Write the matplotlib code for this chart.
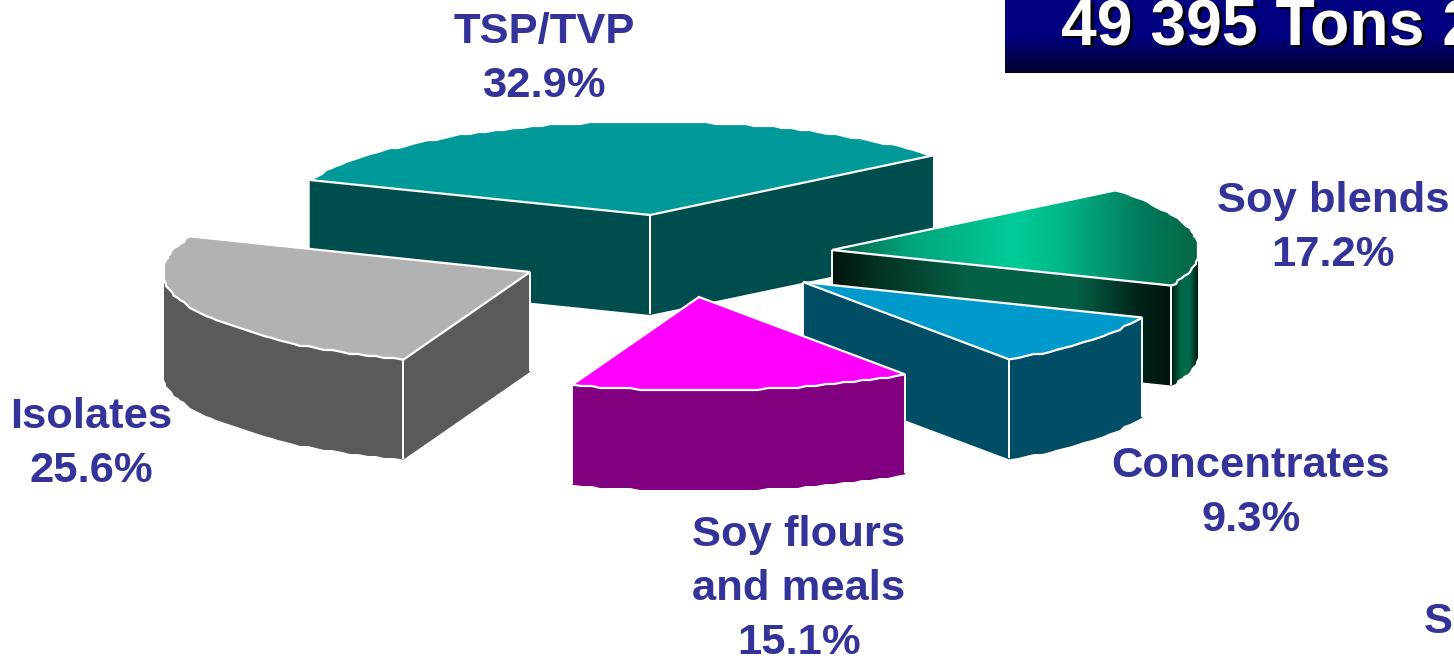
import matplotlib
matplotlib.use("Agg")
import matplotlib.pyplot as plt
import numpy as np
from matplotlib.colors import LinearSegmentedColormap
from matplotlib.patches import Polygon

plt.rcParams['font.family'] = ['Liberation Sans', 'DejaVu Sans']

# Data
products = ["TSP/TVP", "Soy blends", "Concentrates", "Soy flours\nand meals", "Isolates"]
shares = [32.9, 17.2, 9.3, 15.1, 25.6]
total_text = "49 395 Tons 2"

# Styles
top_colors = ["#009999", None, "#0099cc", "#ff00ff", "#b2b2b2"]
side_colors = ["#004d4d", None, "#004d66", "#800080", "#5a5a5a"]
centers = [(650, 215), (832, 250), (803, 282), (699, 297), (530, 272)]
label_pos = [(544, 59), (1333, 228), (1251, 493), (799, 589), (91, 444)]
RX, RY, DEPTH = 367, 93.5, 100
START = 158.0
TEXT_BLUE = "#333399"

top_cmap = LinearSegmentedColormap.from_list("top", [(0, "#0a5c44"), (0.2, "#00a37a"), (0.5, "#00cc99"), (0.62, "#00b88a"),
                                                     (0.85, "#007a5a"), (1, "#056648")])
face_cmap = LinearSegmentedColormap.from_list("face", [(0, "#00140e"), (0.12, "#03301f"), (0.4, "#056048"), (0.72, "#056048"),
                                                       (0.9, "#00241a"), (1, "#00140e")])
rim_cmap = LinearSegmentedColormap.from_list("rim", [(0, "#001a12"), (0.4, "#006a4c"), (0.7, "#00664a"), (1, "#001a12")])
box_cmap = LinearSegmentedColormap.from_list("box", [(0, "#000080"), (0.5, "#000080"), (1, "#00002a")])

fig = plt.figure(figsize=(14.54, 6.59), dpi=100, facecolor="white")
ax = fig.add_axes([0, 0, 1, 1])
ax.axis("off")


def arc_points(cx, cy, a0, a1):
    # rough outline, the original pie edge is low resolution
    n = max(2, int(abs(a1 - a0) / 1.5))
    t = np.radians(np.linspace(a0, a1, n))
    x = np.round((cx + RX * np.cos(t)) / 2) * 2
    y = np.round((cy - RY * np.sin(t)) / 2) * 2
    x[0], y[0] = cx + RX * np.cos(t[0]), cy - RY * np.sin(t[0])
    x[-1], y[-1] = cx + RX * np.cos(t[-1]), cy - RY * np.sin(t[-1])
    return np.column_stack([x, y])


def fill_shape(pts, color, cmap, z):
    if cmap is None:
        ax.add_patch(Polygon(pts, closed=True, facecolor=color, edgecolor="none", zorder=z))
        return
    patch = Polygon(pts, closed=True, facecolor="none", edgecolor="none", zorder=z)
    ax.add_patch(patch)
    grad = np.linspace(0, 1, 256).reshape(1, -1)
    im = ax.imshow(grad, cmap=cmap, aspect="auto", zorder=z,
                   extent=[pts[:, 0].min(), pts[:, 0].max(), pts[:, 1].max(), pts[:, 1].min()])
    im.set_clip_path(patch)


def wall(pts, color, cmap, z, corners):
    # pts run along the top edge of the wall, the bottom is the same shifted down
    low = pts[::-1] + [0, DEPTH]
    fill_shape(np.vstack([pts, low]), color, cmap, z)
    for p in corners:
        ax.plot([p[0], p[0]], [p[1], p[1] + DEPTH - 1], color="white", lw=1.4, zorder=z + 0.1,
                solid_capstyle="butt")


# Pie slices, clockwise from the left edge of the first one
angle = START
for i, share in enumerate(shares):
    a0 = angle
    a1 = angle - share * 3.6
    angle = a1
    cx, cy = centers[i]
    z = 2 + i
    gradient = top_colors[i] is None
    rim = arc_points(cx, cy, a0, a1)
    apex = np.array([[cx, cy]], dtype=float)

    if np.cos(np.radians(a0)) < 0:
        wall(np.vstack([apex, rim[:1]]), side_colors[i], face_cmap if gradient else None, z, [apex[0]])
    if np.cos(np.radians(a1)) > 0:
        wall(np.vstack([apex, rim[-1:]]), side_colors[i], face_cmap if gradient else None, z, [apex[0]])

    # only the part of the rim turned to the viewer has a wall
    front = np.sin(np.radians(np.linspace(a0, a1, len(rim)))) <= 0
    if front.sum() > 1:
        corners = []
        if front[0]:
            corners.append(rim[0])
        if front[-1]:
            corners.append(rim[-1])
        wall(rim[front], side_colors[i], rim_cmap if gradient else None, z + 0.2, corners)

    top = np.vstack([apex, rim])
    fill_shape(top, top_colors[i], top_cmap if gradient else None, z + 0.4)
    ax.add_patch(Polygon(top, closed=True, facecolor="none", edgecolor="white", lw=1.6,
                         joinstyle="miter", zorder=z + 0.5))

# Labels
for name, share, (x, y) in zip(products, shares, label_pos):
    ax.text(x, y, f"{name}\n{share}%", ha="center", va="center", color=TEXT_BLUE, fontsize=31.3,
            fontweight="bold", linespacing=1.45, zorder=20)
ax.text(1424, 633, "S", ha="left", va="baseline", color=TEXT_BLUE, fontsize=31.3, fontweight="bold", zorder=20)

# Title box cut off by the right edge
ax.imshow(np.linspace(0, 1, 256).reshape(-1, 1), cmap=box_cmap, aspect="auto", extent=[1005, 1454, 73, 0], zorder=21)
ax.text(1061 + 2.5, 45 + 2.5, total_text, color="black", fontsize=46.3, fontweight="bold", ha="left", va="baseline", zorder=22)
ax.text(1061, 45, total_text, color="white", fontsize=46.3, fontweight="bold", ha="left", va="baseline", zorder=23)

ax.set_xlim(0, 1454)
ax.set_ylim(659, 0)
fig.savefig("out.png", dpi=100)
